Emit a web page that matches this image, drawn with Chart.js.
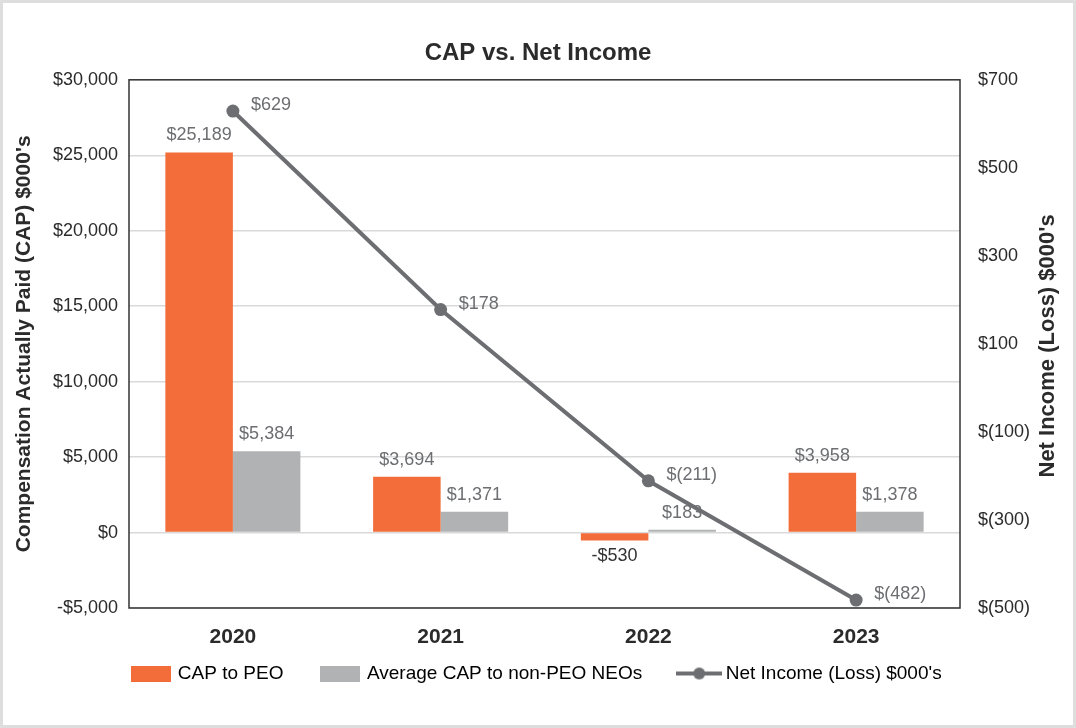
<!DOCTYPE html>
<html>
<head>
<meta charset="utf-8">
<title>CAP vs. Net Income</title>
<script src="https://cdn.jsdelivr.net/npm/chart.js@4.4.1/dist/chart.umd.min.js"></script>
<style>
  html, body { margin: 0; padding: 0; background: #fff; }
  #frame {
    width: 1076px; height: 728px; box-sizing: border-box;
    border: 3px solid #dedede; background: #fff;
  }
  canvas { display: block; }
</style>
</head>
<body>
<div id="frame"><canvas id="cap-chart" width="1070" height="722"></canvas></div>
<script>
// Data ($000's)
const years       = ['2020', '2021', '2022', '2023'];
const capPeo      = [25189, 3694, -530, 3958];
const capNonPeo   = [5384, 1371, 183, 1378];
const netIncome   = [629, 178, -211, -482];

const ORANGE = '#f26d39';
const GREY   = '#b1b2b4';
const LINE   = '#6d6e71';
const INK    = '#2b2b2b';
const FONT   = '"Liberation Sans", Arial, Helvetica, sans-serif';

Chart.defaults.font.family = FONT;
Chart.defaults.color = INK;

// $ formatters
const fmtCap = v => (v < 0 ? '-$' : '$') + Math.abs(v).toLocaleString('en-US');
const fmtNet = v => v < 0 ? '$(' + Math.abs(v) + ')' : '$' + v;

// legend swatches
function swatch (w, h, draw) {
  const c = document.createElement('canvas');
  c.width = w; c.height = h;
  draw(c.getContext('2d'), w, h);
  return c;
}
const boxOrange = swatch(40, 16, (g, w, h) => { g.fillStyle = ORANGE; g.fillRect(0, 0, w, h); });
const boxGrey   = swatch(40, 16, (g, w, h) => { g.fillStyle = GREY; g.fillRect(0, 0, w, h); });
const lineMark  = swatch(46, 16, (g, w, h) => {
  g.strokeStyle = LINE; g.lineWidth = 4;
  g.beginPath(); g.moveTo(0, h / 2); g.lineTo(w, h / 2); g.stroke();
  g.fillStyle = LINE;
  g.beginPath(); g.arc(w / 2, h / 2, 6, 0, Math.PI * 2); g.fill();
});
const legendMarks = [boxOrange, boxGrey, lineMark];

// value labels next to bars and points
const valueLabels = {
  id: 'valueLabels',
  afterDatasetsDraw (chart) {
    const ctx = chart.ctx;
    ctx.save();
    ctx.font = '18px ' + FONT;
    chart.data.datasets.forEach((ds, i) => {
      const meta = chart.getDatasetMeta(i);
      meta.data.forEach((el, j) => {
        const v = ds.data[j];
        if (ds.type === 'line') {
          ctx.fillStyle = LINE;
          ctx.textAlign = 'left';
          ctx.textBaseline = 'middle';
          ctx.fillText(fmtNet(v), el.x + 18, el.y - 6);
        } else if (v < 0) {
          ctx.fillStyle = '#333';
          ctx.textAlign = 'center';
          ctx.textBaseline = 'top';
          ctx.fillText(fmtCap(v), el.x, el.y + 6);
        } else {
          ctx.fillStyle = LINE;
          ctx.textAlign = 'center';
          ctx.textBaseline = 'alphabetic';
          ctx.fillText(fmtCap(v), el.x, el.y - 12);
        }
      });
    });
    ctx.restore();
  }
};

// dark frame round the plot + right axis title (reads bottom to top)
const plotFrame = {
  id: 'plotFrame',
  afterLayout (chart) {
    // legend sits closer to the year labels than its item padding allows
    chart.legend.top -= 26;
    chart.legend.bottom -= 26;
  },
  beforeDatasetsDraw (chart) {
    const { ctx, chartArea: a } = chart;
    ctx.save();
    ctx.strokeStyle = '#333';
    ctx.lineWidth = 1.5;
    ctx.strokeRect(a.left, a.top, a.right - a.left, a.bottom - a.top);
    ctx.restore();
  },
  afterDraw (chart) {
    const { ctx, chartArea: a } = chart;
    ctx.save();
    ctx.translate(chart.width - 25, (a.top + a.bottom) / 2 + 2);
    ctx.rotate(-Math.PI / 2);
    ctx.font = 'bold 22px ' + FONT;
    ctx.fillStyle = INK;
    ctx.textAlign = 'center';
    ctx.textBaseline = 'middle';
    ctx.fillText("Net Income (Loss) $000's", 0, 0);
    ctx.restore();
  }
};

new Chart(document.getElementById('cap-chart'), {
  data: {
    labels: years,
    datasets: [
      { type: 'bar', label: 'CAP to PEO', data: capPeo, backgroundColor: ORANGE,
        yAxisID: 'y', order: 2, categoryPercentage: 0.65, barPercentage: 1 },
      { type: 'bar', label: 'Average CAP to non-PEO NEOs', data: capNonPeo, backgroundColor: GREY,
        yAxisID: 'y', order: 2, categoryPercentage: 0.65, barPercentage: 1 },
      { type: 'line', label: "Net Income (Loss) $000's", data: netIncome, yAxisID: 'y1', order: 1,
        borderColor: LINE, backgroundColor: LINE, borderWidth: 4,
        pointRadius: 6.5, pointHoverRadius: 6.5, pointBackgroundColor: LINE, pointBorderWidth: 0,
        tension: 0 }
    ]
  },
  options: {
    responsive: false,
    animation: false,
    layout: { padding: { top: 0, bottom: 6, left: 0, right: 0 } },
    plugins: {
      tooltip: { enabled: false },
      title: {
        display: true, text: 'CAP vs. Net Income', color: INK,
        font: { size: 24, weight: 'bold' }, padding: { top: 36, bottom: 12 }
      },
      legend: {
        position: 'bottom',
        labels: {
          usePointStyle: true, pointStyleWidth: 34, boxHeight: 16,
          padding: 40, color: INK, font: { size: 19 },
          generateLabels: chart => chart.data.datasets.map((ds, i) => ({
            text: ds.label, pointStyle: legendMarks[i], fillStyle: 'transparent',
            strokeStyle: 'transparent', lineWidth: 0, datasetIndex: i, hidden: false
          }))
        }
      }
    },
    scales: {
      x: {
        grid: { display: false, drawTicks: false },
        border: { display: false },
        ticks: { color: INK, padding: 17, font: { size: 21, weight: 'bold' } },
        afterFit: s => { s.height = 42; }
      },
      y: {
        position: 'left', min: -5000, max: 30000,
        ticks: { stepSize: 5000, padding: 11, color: INK, font: { size: 18 }, callback: v => fmtCap(v) },
        grid: { color: '#d9d9d9', lineWidth: 1.5, drawTicks: false },
        border: { display: false },
        title: { display: true, text: "Compensation Actually Paid (CAP) $000's", color: INK,
          font: { size: 21, weight: 'bold' }, padding: { top: 9, bottom: 0 } },
        afterFit: s => { s.width = 126; }
      },
      y1: {
        position: 'right', min: -500, max: 700,
        ticks: { stepSize: 200, padding: 18, color: INK, font: { size: 18 }, callback: v => fmtNet(v) },
        grid: { display: false, drawTicks: false },
        border: { display: false },
        afterFit: s => { s.width = 113; }
      }
    }
  },
  plugins: [valueLabels, plotFrame]
});
</script>
</body>
</html>
